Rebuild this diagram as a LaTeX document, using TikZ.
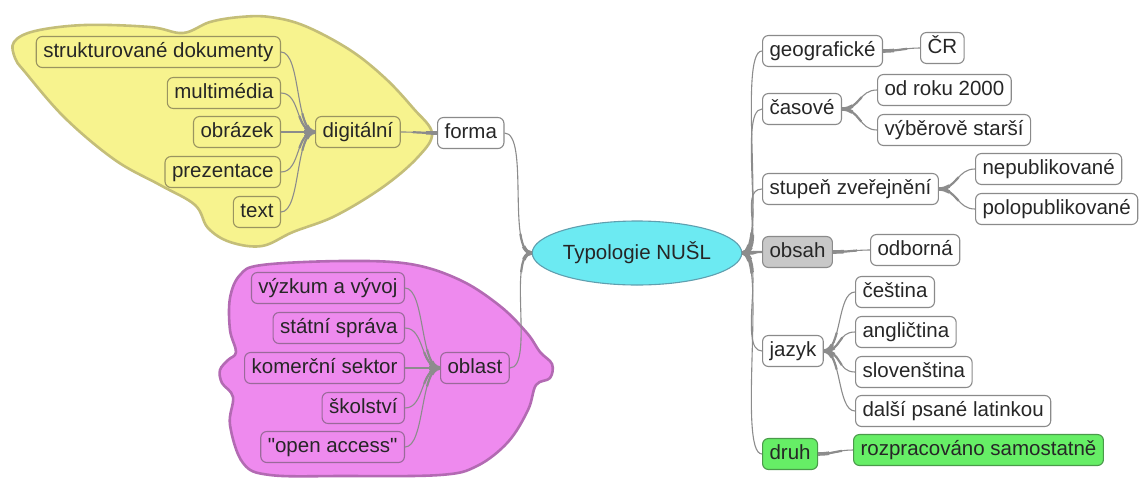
\documentclass[tikz,border=0pt]{standalone}
\usepackage{fontspec}
\setmainfont{Liberation Sans}
\usetikzlibrary{shapes.geometric}

\definecolor{boxline}{HTML}{8A8A8A}
\definecolor{linkgray}{HTML}{8C8C8C}
\definecolor{yfill}{HTML}{F7F38E}
\definecolor{yline}{HTML}{C4BE78}
\definecolor{ybox}{HTML}{9A9460}
\definecolor{pfill}{HTML}{EE8AEE}
\definecolor{pline}{HTML}{B36AB3}
\definecolor{pbox}{HTML}{9A6A9A}
\definecolor{rootfill}{HTML}{6CEAF2}
\definecolor{rootline}{HTML}{5F9FAF}
\definecolor{gfill}{HTML}{66EE66}
\definecolor{gline}{HTML}{4A9A4A}
\definecolor{ofill}{HTML}{C8C8C8}

\begin{document}
\begin{tikzpicture}[x=1pt,y=-1pt,
    box/.style={draw=boxline, fill=white, rounded corners=6pt, line width=1.1pt,
      inner xsep=7pt, inner ysep=6pt, text height=15pt, text depth=4pt,
      font=\fontsize{20.5}{22}\selectfont, text=black!85},
    ybox/.style={box, draw=ybox, fill=yfill},
    pbox/.style={box, draw=pbox, fill=pfill},
    gbox/.style={box, draw=gline, fill=gfill},
    link/.style={draw=linkgray, line width=1.1pt,
      preaction={draw=linkgray, line width=2.2pt, dash pattern=on 24pt off 3000pt},
      preaction={draw=linkgray, line width=3.6pt, dash pattern=on 11pt off 3000pt}},
    blob/.style={line width=2.6pt, line join=round}]
  \useasboundingbox (0,0) rectangle (1139,477);

  % clouds behind the two left branches
  \draw[blob, draw=yline, fill=yfill] plot[smooth cycle, tension=0.6] coordinates {
    (14,42) (35,31) (85,25) (150,27) (183,33) (210,22) (240,17) (270,17) (305,26)
    (350,50) (385,78) (413,108) (432,133) (418,157) (383,187) (335,216) (293,232)
    (262,246) (230,242) (208,228) (195,205) (160,185) (115,160) (65,118) (25,72)
    (15,58)};
  \draw[blob, draw=pline, fill=pfill] plot[smooth cycle, tension=0.6] coordinates {
    (240,275) (262,265) (343,261) (410,264) (460,280) (500,306) (527,333) (540,352)
    (552,364) (550,378) (536,385) (528,410) (508,442) (477,466) (440,475) (343,476)
    (270,475) (243,463) (230,425) (233,397) (222,383) (220,370) (228,360) (236,352)
    (230,330) (230,298)};

  % centre
  \node[ellipse, draw=rootline, fill=rootfill, line width=1.1pt, minimum width=171pt,
    minimum height=64pt, inner sep=0pt, font=\fontsize{20.5}{22}\selectfont,
    text=black!85] (root) at (637,253) {Typologie NUŠL};

  % left: forma
  \node[box, anchor=west] (forma) at (437,133) {forma};
  \node[ybox, anchor=west] (dig) at (315,132) {digitální};
  \node[ybox, anchor=east] (strdok) at (281,52) {strukturované dokumenty};
  \node[ybox, anchor=east] (multi) at (281,93) {multimédia};
  \node[ybox, anchor=east] (obr) at (281,132) {obrázek};
  \node[ybox, anchor=east] (prez) at (281,172) {prezentace};
  \node[ybox, anchor=east] (txt) at (281,212) {text};

  % left: oblast
  \node[pbox, anchor=west] (oblast) at (440,368) {oblast};
  \node[pbox, anchor=east] (vyzk) at (405,288) {výzkum a vývoj};
  \node[pbox, anchor=east] (stat) at (405,328) {státní správa};
  \node[pbox, anchor=east] (kom) at (405,368) {komerční sektor};
  \node[pbox, anchor=east] (skol) at (405,408) {školství};
  \node[pbox, anchor=east] (open) at (405,447) {\textquotedbl open access\textquotedbl};

  % right branches
  \node[box, anchor=west] (geo) at (762,51) {geografické};
  \node[box, anchor=west] (cr) at (920,48) {ČR};
  \node[box, anchor=west] (cas) at (762,109) {časové};
  \node[box, anchor=west] (od2000) at (877,90) {od roku 2000};
  \node[box, anchor=west] (starsi) at (877,130) {výběrově starší};
  \node[box, anchor=west] (stup) at (762,189) {stupeň zveřejnění};
  \node[box, anchor=west] (nepub) at (975,169) {nepublikované};
  \node[box, anchor=west] (polo) at (975,209) {polopublikované};
  \node[box, anchor=west, fill=ofill] (obsah) at (762,252) {obsah};
  \node[box, anchor=west] (odb) at (870,250) {odborná};
  \node[box, anchor=west] (jazyk) at (762,351) {jazyk};
  \node[box, anchor=west] (ces) at (855,292) {čeština};
  \node[box, anchor=west] (angl) at (855,332) {angličtina};
  \node[box, anchor=west] (slov) at (855,372) {slovenština};
  \node[box, anchor=west] (dalsi) at (855,411) {další psané latinkou};
  \node[gbox, anchor=west] (druh) at (762,454) {druh};
  \node[gbox, anchor=west] (rozpr) at (853,450) {rozpracováno samostatně};

  % connectors
  \draw[link] (root.west) .. controls +(-25,0) and +(25,0) .. (forma.east);
  \draw[link] (root.west) .. controls +(-25,0) and +(25,0) .. (oblast.east);
  \draw[link] (forma.west) .. controls +(-15,0) and +(15,0) .. (dig.east);
  \draw[link] (dig.west) .. controls +(-20,0) and +(20,0) .. (strdok.east);
  \draw[link] (dig.west) .. controls +(-20,0) and +(20,0) .. (multi.east);
  \draw[link] (dig.west) .. controls +(-20,0) and +(20,0) .. (obr.east);
  \draw[link] (dig.west) .. controls +(-20,0) and +(20,0) .. (prez.east);
  \draw[link] (dig.west) .. controls +(-20,0) and +(20,0) .. (txt.east);
  \draw[link] (oblast.west) .. controls +(-20,0) and +(20,0) .. (vyzk.east);
  \draw[link] (oblast.west) .. controls +(-20,0) and +(20,0) .. (stat.east);
  \draw[link] (oblast.west) .. controls +(-20,0) and +(20,0) .. (kom.east);
  \draw[link] (oblast.west) .. controls +(-20,0) and +(20,0) .. (skol.east);
  \draw[link] (oblast.west) .. controls +(-20,0) and +(20,0) .. (open.east);

  \draw[link] (root.east) .. controls +(25,0) and +(-25,0) .. (geo.west);
  \draw[link] (root.east) .. controls +(25,0) and +(-25,0) .. (cas.west);
  \draw[link] (root.east) .. controls +(25,0) and +(-25,0) .. (stup.west);
  \draw[link] (root.east) .. controls +(25,0) and +(-25,0) .. (obsah.west);
  \draw[link] (root.east) .. controls +(25,0) and +(-25,0) .. (jazyk.west);
  \draw[link] (root.east) .. controls +(25,0) and +(-25,0) .. (druh.west);
  \draw[link] (geo.east) .. controls +(15,0) and +(-15,0) .. (cr.west);
  \draw[link] (cas.east) .. controls +(18,0) and +(-18,0) .. (od2000.west);
  \draw[link] (cas.east) .. controls +(18,0) and +(-18,0) .. (starsi.west);
  \draw[link] (stup.east) .. controls +(18,0) and +(-18,0) .. (nepub.west);
  \draw[link] (stup.east) .. controls +(18,0) and +(-18,0) .. (polo.west);
  \draw[link] (obsah.east) .. controls +(15,0) and +(-15,0) .. (odb.west);
  \draw[link] (jazyk.east) .. controls +(18,0) and +(-18,0) .. (ces.west);
  \draw[link] (jazyk.east) .. controls +(18,0) and +(-18,0) .. (angl.west);
  \draw[link] (jazyk.east) .. controls +(18,0) and +(-18,0) .. (slov.west);
  \draw[link] (jazyk.east) .. controls +(18,0) and +(-18,0) .. (dalsi.west);
  \draw[link] (druh.east) .. controls +(15,0) and +(-15,0) .. (rozpr.west);
\end{tikzpicture}
\end{document}
